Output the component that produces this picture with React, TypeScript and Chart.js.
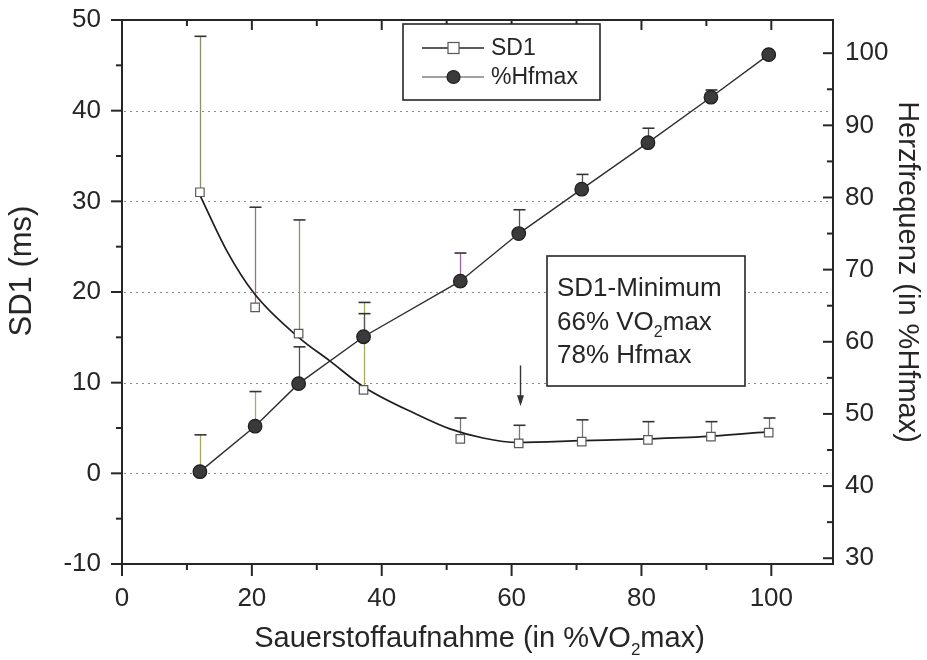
import React, { useEffect, useRef } from "react";
import { Chart, registerables } from "chart.js";

Chart.register(...registerables);

// Exercise stages, oxygen uptake in % of VO2max
const vo2Stages = [12.0, 20.5, 27.2, 37.2, 52.1, 61.1, 70.8, 81.0, 90.7, 99.6];
// SD1 of the Poincaré plot (ms): means and upper standard deviations
const sd1Mean = [31.0, 18.3, 15.4, 9.2, 3.8, 3.3, 3.5, 3.7, 4.05, 4.5];
const sd1Sd = [17.2, 11.05, 12.55, 9.65, 2.3, 2.0, 2.4, 2.0, 1.65, 1.6];
// Heart rate in % of Hfmax: means and upper standard deviations
const hfMean = [42.0, 48.3, 54.2, 60.7, 68.4, 75.0, 81.15, 87.6, 93.9, 99.8];
const hfSd = [5.1, 4.8, 5.1, 3.2, 3.9, 3.3, 2.05, 2.0, 1.0, 0];
// Fitted SD1 trend curve
const fitVo2 = [11.8, 16.1, 20.4, 27.2, 32.0, 37.3, 45.4, 50.5, 55.6, 61.0, 70.9, 81.0, 91.0, 99.8];
const fitSd1 = [31.0, 24.6, 19.8, 15.0, 12.4, 9.5, 6.5, 4.9, 3.9, 3.4, 3.6, 3.8, 4.1, 4.6];

// Error bar stroke colours (printed tints)
const sd1BarColor = ["#8e8f6c", "#9a6e9c", "#8d9462", "#a7ac63", "#777", "#777", "#777", "#777", "#777", "#777"];
const hfBarColor = ["#a6aa5c", "#a9ae62", "#555", "#555", "#a0629c", "#555", "#555", "#555", "#555", "#555"];

// Arrow marking the SD1 minimum
const minimumVo2 = 61.3;
const arrowFrom = 11.9;
const arrowTo = 7.4;
const noteLines = [
  [{ t: "SD1-Minimum" }],
  [{ t: "66% VO" }, { t: "2", sub: true }, { t: "max" }],
  [{ t: "78% Hfmax" }],
];

// Axis titles
const xTitle = [{ t: "Sauerstoffaufnahme (in %VO" }, { t: "2", sub: true }, { t: "max)" }];
const leftTitle = "SD1 (ms)";
const rightTitle = "Herzfrequenz (in %Hfmax)";

// Axis ticks
const xTicks = [0, 20, 40, 60, 80, 100];
const xMinor = [10, 30, 50, 70, 90];
const sdTicks = [-10, 0, 10, 20, 30, 40, 50];
const sdMinor = [-5, 5, 15, 25, 35, 45];
const hfTicks = [30, 40, 50, 60, 70, 80, 90, 100];
const hfMinor = [35, 45, 55, 65, 75, 85, 95];
const sdGrid = [0, 10, 20, 30, 40];

const FONT = "'Liberation Sans', Arial, sans-serif";
const INK = "#262626";

function drawRich(ctx: CanvasRenderingContext2D, parts: any[], x: number, y: number, size: number) {
  let cx = x;
  for (const p of parts) {
    if (p.sub) {
      ctx.font = `${Math.round(size * 0.6)}px ${FONT}`;
      ctx.fillText(p.t, cx, y + size * 0.28);
    } else {
      ctx.font = `${size}px ${FONT}`;
      ctx.fillText(p.t, cx, y);
    }
    cx += ctx.measureText(p.t).width;
  }
  return cx - x;
}

function richWidth(ctx: CanvasRenderingContext2D, parts: any[], size: number) {
  let w = 0;
  for (const p of parts) {
    ctx.font = p.sub ? `${Math.round(size * 0.6)}px ${FONT}` : `${size}px ${FONT}`;
    w += ctx.measureText(p.t).width;
  }
  return w;
}

const decor = {
  id: "decor",
  beforeDatasetsDraw(chart: any) {
    const { ctx, chartArea: a, scales } = chart;
    const xs = scales.x, yl = scales.y, yr = scales.y1;
    ctx.save();
    // dotted reference lines
    ctx.strokeStyle = "#8c8c8c";
    ctx.lineWidth = 1.2;
    ctx.setLineDash([2, 4]);
    for (const v of sdGrid) {
      const py = Math.round(yl.getPixelForValue(v)) + 0.5;
      ctx.beginPath();
      ctx.moveTo(a.left + 2, py);
      ctx.lineTo(a.right - 2, py);
      ctx.stroke();
    }
    ctx.setLineDash([]);

    // upper error bars
    const bar = (px: number, p0: number, p1: number, color: string) => {
      ctx.strokeStyle = color;
      ctx.lineWidth = 1.3;
      ctx.beginPath();
      ctx.moveTo(px, p0);
      ctx.lineTo(px, p1);
      ctx.stroke();
      ctx.strokeStyle = "#333";
      ctx.lineWidth = 1.6;
      ctx.beginPath();
      ctx.moveTo(px - 6, p1);
      ctx.lineTo(px + 6, p1);
      ctx.stroke();
    };
    vo2Stages.forEach((v, i) => {
      const px = Math.round(xs.getPixelForValue(v)) + 0.5;
      bar(px, yl.getPixelForValue(sd1Mean[i]), yl.getPixelForValue(sd1Mean[i] + sd1Sd[i]), sd1BarColor[i]);
      if (hfSd[i] > 0) {
        bar(px, yr.getPixelForValue(hfMean[i]), yr.getPixelForValue(hfMean[i] + hfSd[i]), hfBarColor[i]);
      }
    });
    ctx.restore();
  },
  afterDatasetsDraw(chart: any) {
    const { ctx, chartArea: a, scales } = chart;
    const xs = scales.x, yl = scales.y, yr = scales.y1;
    ctx.save();
    ctx.strokeStyle = INK;
    ctx.fillStyle = INK;

    // frame
    ctx.lineWidth = 2;
    ctx.strokeRect(a.left, a.top, a.right - a.left, a.bottom - a.top);

    const tick = (x0: number, y0: number, x1: number, y1: number) => {
      ctx.beginPath();
      ctx.moveTo(x0, y0);
      ctx.lineTo(x1, y1);
      ctx.stroke();
    };
    ctx.lineWidth = 2;
    // left axis: outward ticks
    for (const v of sdTicks) { const p = yl.getPixelForValue(v); tick(a.left - 11, p, a.left, p); }
    for (const v of sdMinor) { const p = yl.getPixelForValue(v); tick(a.left - 6, p, a.left, p); }
    // bottom axis: outward ticks; top: inward ticks
    for (const v of xTicks) {
      const p = xs.getPixelForValue(v);
      tick(p, a.bottom, p, a.bottom + 12);
      tick(p, a.top, p, a.top + 10);
    }
    for (const v of xMinor) {
      const p = xs.getPixelForValue(v);
      tick(p, a.bottom, p, a.bottom + 6);
      tick(p, a.top, p, a.top + 6);
    }
    // right axis: inward ticks
    for (const v of hfTicks) { const p = yr.getPixelForValue(v); tick(a.right - 10, p, a.right, p); }
    for (const v of hfMinor) { const p = yr.getPixelForValue(v); tick(a.right - 6, p, a.right, p); }

    // legend box
    const lx = a.left + 281, ly = a.top + 4, lw = 197, lh = 76;
    ctx.fillStyle = "#fff";
    ctx.fillRect(lx, ly, lw, lh);
    ctx.lineWidth = 1.6;
    ctx.strokeStyle = INK;
    ctx.strokeRect(lx, ly, lw, lh);
    const r1 = ly + 24, r2 = ly + 53;
    ctx.lineWidth = 1.5;
    tick(lx + 19, r1, lx + 81, r1);
    ctx.lineWidth = 1.1;
    ctx.strokeStyle = "#444";
    tick(lx + 19, r2, lx + 81, r2);
    ctx.fillStyle = "#fff";
    ctx.strokeStyle = "#555";
    ctx.lineWidth = 1.2;
    ctx.fillRect(lx + 45, r1 - 5.5, 11, 11);
    ctx.strokeRect(lx + 45, r1 - 5.5, 11, 11);
    ctx.beginPath();
    ctx.arc(lx + 50.5, r2, 6.5, 0, Math.PI * 2);
    ctx.fillStyle = "#3a3a3a";
    ctx.fill();
    ctx.strokeStyle = "#222";
    ctx.stroke();
    ctx.fillStyle = INK;
    ctx.textBaseline = "middle";
    ctx.textAlign = "left";
    ctx.font = `23px ${FONT}`;
    ctx.fillText("SD1", lx + 88, r1 + 1);
    ctx.fillText("%Hfmax", lx + 88, r2 + 1);

    // note box
    const nx = a.left + 425, ny = a.top + 236, nw = 198, nh = 130;
    ctx.fillStyle = "#fff";
    ctx.fillRect(nx, ny, nw, nh);
    ctx.strokeStyle = INK;
    ctx.lineWidth = 1.6;
    ctx.strokeRect(nx, ny, nw, nh);
    ctx.fillStyle = INK;
    ctx.textBaseline = "alphabetic";
    noteLines.forEach((parts, i) => drawRich(ctx, parts, nx + 10, ny + 40 + i * 33.5, 26));

    // arrow to the SD1 minimum
    const ax = Math.round(xs.getPixelForValue(minimumVo2)) + 0.5;
    const a0 = yl.getPixelForValue(arrowFrom), a1 = yl.getPixelForValue(arrowTo);
    ctx.strokeStyle = "#333";
    ctx.lineWidth = 1.4;
    tick(ax, a0, ax, a1 - 8);
    ctx.fillStyle = "#333";
    ctx.beginPath();
    ctx.moveTo(ax - 3.5, a1 - 11);
    ctx.lineTo(ax + 3.5, a1 - 11);
    ctx.lineTo(ax, a1);
    ctx.closePath();
    ctx.fill();

    // axis titles
    ctx.fillStyle = INK;
    const tw = richWidth(ctx, xTitle, 29);
    drawRich(ctx, xTitle, (a.left + a.right) / 2 - tw / 2 + 2, 647, 29);

    ctx.textAlign = "center";
    ctx.textBaseline = "middle";
    ctx.save();
    ctx.font = `31px ${FONT}`;
    ctx.translate(22, 271);
    ctx.rotate(-Math.PI / 2);
    ctx.fillText(leftTitle, 0, 0);
    ctx.restore();
    ctx.save();
    ctx.font = `29px ${FONT}`;
    ctx.translate(907, 272);
    ctx.rotate(Math.PI / 2);
    ctx.fillText(rightTitle, 0, 0);
    ctx.restore();
    ctx.restore();
  },
};

export default function App() {
  const ref = useRef<HTMLCanvasElement | null>(null);

  useEffect(() => {
    const canvas = ref.current;
    if (!canvas) return;
    const tickFont = { family: FONT, size: 26 };
    const noPadY = (w: number) => (s: any) => { s.width = w; s.paddingTop = 0; s.paddingBottom = 0; };
    const chart = new Chart(canvas, {
      type: "scatter",
      data: {
        datasets: [
          {
            label: "SD1",
            data: vo2Stages.map((x, i) => ({ x, y: sd1Mean[i] })),
            yAxisID: "y",
            showLine: false,
            pointStyle: "rect",
            pointRadius: 6,
            backgroundColor: "#ffffff",
            borderColor: "#5a5a5a",
            borderWidth: 1.2,
          },
          {
            label: "%Hfmax",
            data: vo2Stages.map((x, i) => ({ x, y: hfMean[i] })),
            yAxisID: "y1",
            showLine: true,
            tension: 0,
            pointStyle: "circle",
            pointRadius: 6.8,
            pointBackgroundColor: "#3a3a3a",
            pointBorderColor: "#1e1e1e",
            pointBorderWidth: 1.2,
            borderColor: "#2e2e2e",
            borderWidth: 1.4,
          },
          {
            label: "SD1 fit",
            data: fitVo2.map((x, i) => ({ x, y: fitSd1[i] })),
            yAxisID: "y",
            showLine: true,
            cubicInterpolationMode: "monotone",
            pointRadius: 0,
            borderColor: "#1e1e1e",
            borderWidth: 1.7,
          },
        ],
      },
      options: {
        responsive: false,
        animation: false,
        events: [],
        layout: { padding: { top: 20, left: 0, right: 0, bottom: 0 } },
        plugins: { legend: { display: false }, tooltip: { enabled: false } },
        scales: {
          x: {
            type: "linear",
            min: 0,
            max: 109.5,
            afterFit: (s: any) => { s.height = 96; s.paddingLeft = 0; s.paddingRight = 0; },
            afterBuildTicks: (s: any) => { s.ticks = xTicks.map((value) => ({ value })); },
            grid: { display: false, drawTicks: false },
            border: { display: false },
            ticks: { font: tickFont, color: INK, padding: 19, maxRotation: 0 },
          },
          y: {
            type: "linear",
            position: "left",
            min: -10,
            max: 50,
            afterFit: noPadY(122),
            afterBuildTicks: (s: any) => { s.ticks = sdTicks.map((value) => ({ value })); },
            grid: { display: false, drawTicks: false },
            border: { display: false },
            ticks: { font: tickFont, color: INK, padding: 21 },
          },
          y1: {
            type: "linear",
            position: "right",
            min: 29.2,
            max: 104.6,
            afterFit: noPadY(94),
            afterBuildTicks: (s: any) => { s.ticks = hfTicks.map((value) => ({ value })); },
            grid: { display: false, drawTicks: false },
            border: { display: false },
            ticks: { font: tickFont, color: INK, padding: 12 },
          },
        },
      },
      plugins: [decor],
    });
    return () => chart.destroy();
  }, []);

  return (
    <div style={{ position: "absolute", left: 0, top: 0, width: 927, height: 660, background: "#fff" }}>
      <canvas ref={ref} width={927} height={660} style={{ display: "block" }} />
    </div>
  );
}
